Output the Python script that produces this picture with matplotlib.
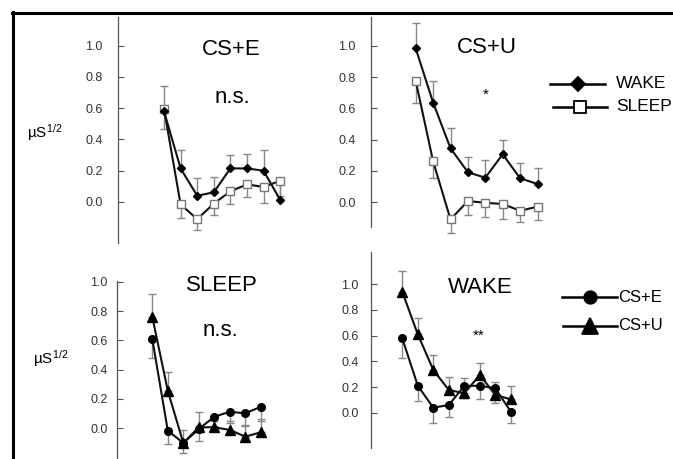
import numpy as np
import matplotlib
matplotlib.use('Agg')
import matplotlib.pyplot as plt
from matplotlib.lines import Line2D

plt.rcParams['font.family'] = ['Liberation Sans', 'DejaVu Sans']
plt.rcParams['mathtext.default'] = 'regular'

# trial index 1..8
trials = np.arange(1, 9)
yticks = [0.0, 0.2, 0.4, 0.6, 0.8, 1.0]

# CS+E panel (top left): WAKE vs SLEEP
cse_wake = [0.58, 0.215, 0.04, 0.062, 0.215, 0.215, 0.20, 0.013]
cse_wake_err = [0.16, 0.12, 0.115, 0.095, 0.085, 0.095, 0.13, 0.10]
cse_sleep = [0.595, -0.015, -0.11, -0.01, 0.068, 0.113, 0.096, 0.136]
cse_sleep_err = [0.13, 0.09, 0.07, 0.07, 0.08, 0.08, 0.10, 0.10]

# CS+U panel (top right): WAKE vs SLEEP
csu_wake = [0.983, 0.637, 0.345, 0.192, 0.157, 0.307, 0.153, 0.117]
csu_wake_err = [0.16, 0.14, 0.13, 0.10, 0.115, 0.09, 0.095, 0.10]
csu_sleep = [0.776, 0.262, -0.109, 0.008, -0.003, -0.011, -0.054, -0.028]
csu_sleep_err = [0.145, 0.11, 0.085, 0.09, 0.09, 0.095, 0.07, 0.085]

# SLEEP panel (bottom left): CS+E vs CS+U
sleep_e = [0.609, -0.016, -0.10, -0.005, 0.079, 0.113, 0.102, 0.147]
sleep_e_err = [0.13, 0.09, 0.07, 0.085, 0.06, 0.08, 0.08, 0.10]
sleep_u = [0.76, 0.256, -0.10, 0.007, 0.007, -0.011, -0.057, -0.027]
sleep_u_err = [0.155, 0.125, 0.09, 0.105, 0.04, 0.06, 0.07, 0.09]

# WAKE panel (bottom right): CS+E vs CS+U
wake_e = [0.579, 0.21, 0.039, 0.06, 0.208, 0.21, 0.19, 0.008]
wake_e_err = [0.155, 0.117, 0.117, 0.096, 0.096, 0.10, 0.117, 0.086]
wake_u = [0.942, 0.61, 0.333, 0.177, 0.151, 0.294, 0.138, 0.104]
wake_u_err = [0.165, 0.13, 0.12, 0.10, 0.117, 0.09, 0.10, 0.106]

W, H = 673, 459
fig = plt.figure(figsize=(W / 100, H / 100), dpi=100)


def make_ax(left, right, top, bottom, x1, dx, y0, py, pad):
    ax = fig.add_axes([left / W, 1 - bottom / H, (right - left) / W, (bottom - top) / H])
    ax.set_xlim(1 + (left - x1) / dx, 1 + (right - x1) / dx)
    ax.set_ylim((y0 - bottom) / py, (y0 - top) / py)
    ax.patch.set_visible(False)
    for s in ['top', 'right', 'bottom']:
        ax.spines[s].set_visible(False)
    ax.spines['left'].set_color('#555555')
    ax.spines['left'].set_linewidth(0.9)
    ax.set_xticks([])
    ax.set_yticks(yticks)
    ax.set_yticklabels(['%.1f' % t for t in yticks])
    ax.tick_params(axis='y', direction='in', length=4.5, width=0.8, color='#555555',
                   labelsize=9, labelcolor='#333333', pad=pad)
    return ax


def series(ax, y, err, up, marker, ms, face='black', edge='black'):
    z = np.zeros(len(err))
    yerr = [z, err] if up else [err, z]
    ax.errorbar(trials, y, yerr=yerr, fmt='none', ecolor='#888888', elinewidth=1.0,
                capsize=3, capthick=1.0, zorder=2, clip_on=False)
    ax.plot(trials, y, color='#111111', lw=1.5, marker=marker, ms=ms,
            mfc=face, mec=edge, mew=1.0, zorder=3, clip_on=False)


ax1 = make_ax(118, 300, 17, 243, 164, 16.6, 202, 156.3, 11)
series(ax1, cse_sleep, cse_sleep_err, False, 's', 5.5, face='white', edge='#777777')
series(ax1, cse_wake, cse_wake_err, True, 'D', 4.4)

ax2 = make_ax(371, 550, 17, 227, 415.7, 17.4, 202.3, 156.6, 11)
series(ax2, csu_sleep, csu_sleep_err, False, 's', 5.5, face='white', edge='#777777')
series(ax2, csu_wake, csu_wake_err, True, 'D', 4.4)

ax3 = make_ax(116.7, 300, 281, 459, 152.3, 15.5, 428.3, 146.6, 6.5)
series(ax3, sleep_e, sleep_e_err, False, 'o', 5.5)
series(ax3, sleep_u, sleep_u_err, True, '^', 6.5)

ax4 = make_ax(371, 550, 252, 448, 402.3, 15.5, 412.7, 128.4, 9)
series(ax4, wake_e, wake_e_err, False, 'o', 5.5)
series(ax4, wake_u, wake_u_err, True, '^', 6.5)


def ftext(x, y, s, **kw):
    fig.text(x / W, 1 - y / H, s, **kw)


ftext(231.7, 55, 'CS+E', ha='center', va='baseline', fontsize=16)
ftext(232, 103.3, 'n.s.', ha='center', va='baseline', fontsize=16)
ftext(486.7, 53.3, 'CS+U', ha='center', va='baseline', fontsize=16)
ftext(486, 95, '*', ha='center', va='center', fontsize=11)
ftext(221.7, 291, 'SLEEP', ha='center', va='baseline', fontsize=16)
ftext(220.7, 335.7, 'n.s.', ha='center', va='baseline', fontsize=16)
ftext(480, 293.3, 'WAKE', ha='center', va='baseline', fontsize=16)
ftext(479, 336, '**', ha='center', va='center', fontsize=11)
ftext(27.3, 137.3, r'µS$^{1/2}$', ha='left', va='baseline', fontsize=11)
ftext(33.3, 363.3, r'µS$^{1/2}$', ha='left', va='baseline', fontsize=11)

# legends drawn by hand, as in the original figure
leg = [
    (550, 605, 83.5, 616, 'D', 7.5, 'black', 'black', 'WAKE'),
    (553, 607, 106.7, 616, 's', 8, 'white', 'black', 'SLEEP'),
    (562, 617, 297, 618, 'o', 9, 'black', 'black', 'CS+E'),
    (563, 617, 326, 618, '^', 11, 'black', 'black', 'CS+U'),
]
for x0, x1, y, tx, m, ms, fc, ec, lab in leg:
    fy = 1 - y / H
    fig.add_artist(Line2D([x0 / W, x1 / W], [fy, fy], color='black', lw=1.8))
    fig.add_artist(Line2D([(x0 + x1) / 2 / W], [fy], marker=m, ms=ms, mfc=fc, mec=ec,
                          mew=1.3, color='black'))
    fs = 12.5 if lab in ('WAKE', 'SLEEP') else 12
    fig.text(tx / W, fy, lab, ha='left', va='center', fontsize=fs)

# outer frame (top and left edges)
fig.add_artist(Line2D([12 / W, 1], [1 - 12.5 / H, 1 - 12.5 / H], color='black', lw=2.2))
fig.add_artist(Line2D([12.5 / W, 12.5 / W], [0, 1 - 11.5 / H], color='black', lw=2.2))

fig.savefig('out.png', dpi=100)
